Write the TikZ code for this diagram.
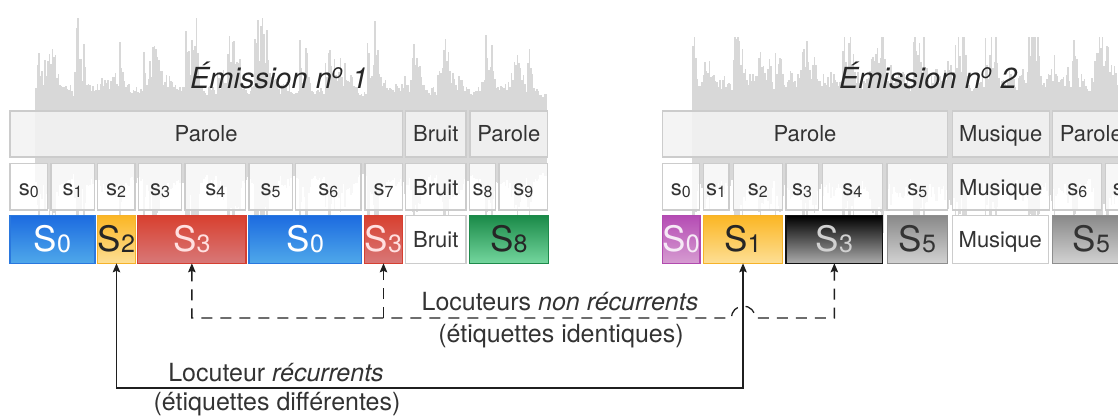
\documentclass[tikz,border=0pt]{standalone}
\usepackage{fontspec}
\setmainfont{TeX Gyre Heros}
\usetikzlibrary{arrows.meta}
\definecolor{txt}{HTML}{333333}
\definecolor{bord}{HTML}{CCCCCC}
\definecolor{wave}{HTML}{D8D8D8}
\definecolor{rowAfill}{HTML}{F3F3F3}
\definecolor{blueT}{HTML}{1C6BE0}\definecolor{blueB}{HTML}{4FA8EA}\definecolor{blueD}{HTML}{2A78DE}
\definecolor{yelT}{HTML}{FBB624}\definecolor{yelB}{HTML}{FDDF95}\definecolor{yelD}{HTML}{F6B22A}
\definecolor{redT}{HTML}{D8402F}\definecolor{redB}{HTML}{D87878}\definecolor{redD}{HTML}{D53F31}
\definecolor{grnT}{HTML}{1A8A48}\definecolor{grnB}{HTML}{74D69E}\definecolor{grnD}{HTML}{1E8A4B}
\definecolor{purT}{HTML}{B54CB4}\definecolor{purB}{HTML}{D69CD1}\definecolor{purD}{HTML}{B14BAF}
\definecolor{blkT}{HTML}{000000}\definecolor{blkB}{HTML}{ABABAB}\definecolor{blkD}{HTML}{111111}
\definecolor{gryT}{HTML}{898989}\definecolor{gryB}{HTML}{D2D2D2}\definecolor{gryD}{HTML}{8E8E8E}
\newcommand\fs[1]{\fontsize{#1}{#1}\selectfont}
\newcommand\smS[1]{s\raisebox{-2.3pt}{\fs{16}#1}}
\newcommand\bgS[1]{S\raisebox{-1pt}{\fs{25}#1}}
\newcommand\seg[6]{\node[#1, minimum width={(#4-#3)*1pt}] (#2) at ({(#3+#4)/2},#5) {#6};}
\begin{document}
\begin{tikzpicture}[x=1pt,y=-1pt,
  segbase/.style={draw=bord, line width=1.3pt, inner sep=0pt, outer sep=0pt, text=txt},
  rowA/.style={segbase, fill=rowAfill, fill opacity=0.88, text opacity=1, minimum height=46pt, text height=16pt, text depth=0.6pt, font=\fs{22}},
  rowB/.style={segbase, fill=white, fill opacity=0.82, text opacity=1, minimum height=46.7pt, text height=17.2pt, text depth=0.6pt, font=\fs{22}},
  rowC/.style={segbase, line width=1.2pt, minimum height=47.6pt, text height=25pt, text depth=0.6pt, font=\fs{35}},
  rowCw/.style={segbase, fill=white, minimum height=47.6pt, text height=17pt, text depth=0.6pt, font=\fs{22}},
  cblue/.style={rowC, draw=blueD, top color=blueT, bottom color=blueB, text=white},
  cyel/.style={rowC, draw=yelD, top color=yelT, bottom color=yelB, text=black!85},
  cred/.style={rowC, draw=redD, top color=redT, bottom color=redB, text=white!88!red},
  cgrn/.style={rowC, draw=grnD, top color=grnT, bottom color=grnB, text=black!85},
  cpur/.style={rowC, draw=purD, top color=purT, bottom color=purB, text=white!88!purT},
  cblk/.style={rowC, draw=blkD, top color=blkT, bottom color=blkB, text=black!18},
  cgry/.style={rowC, draw=gryD, top color=gryT, bottom color=gryB, text=txt},
  lab/.style={text=txt, font=\fs{25}, inner sep=0pt},
  ttl/.style={text=black!85, font=\fs{29}\itshape, inner sep=0pt},
  conn/.style={line width=1.3pt, draw=black!88},
  dsh/.style={conn, dash pattern=on 11pt off 8pt},
  tip/.style={arrows={-{Stealth[length=9pt,width=7.5pt,inset=1.5pt]}}},
  tips/.style={arrows={{Stealth[length=9pt,width=7.5pt,inset=1.5pt]}-{Stealth[length=9pt,width=7.5pt,inset=1.5pt]}}}
]
\useasboundingbox (0,0) rectangle (1118,416);
\clip (0,0) rectangle (1118,416);
% waveforms (decorative background)
\pgfmathsetseed{12}
\xdef\prevh{40}
\foreach \x in {35,36.5,...,545} {%
  \pgfmathsetmacro\b{floor((\x-30)/14)}%
  \pgfmathsetmacro\amp{15+100*(0.5+0.5*sin(\b*137.5+20))^2}%
  \pgfmathsetmacro\nh{34+6*rnd+\amp*rnd^1.5}%
  \pgfmathsetmacro\h{min(127,0.45*\prevh+0.55*\nh)}%
  \xdef\prevh{\h}%
  \fill[wave] (\x,135-\h) rectangle ++(1.7,2*\h);}
\xdef\prevh{40}
\foreach \x in {692,693.5,...,1118} {%
  \pgfmathsetmacro\b{floor((\x-30)/14)}%
  \pgfmathsetmacro\amp{30+90*(0.5+0.5*sin(\b*137.5+60))^2}%
  \pgfmathsetmacro\nh{38+6*rnd+\amp*rnd^1.5}%
  \pgfmathsetmacro\h{min(98,0.45*\prevh+0.55*\nh)}%
  \xdef\prevh{\h}%
  \fill[wave] (\x,135-\h) rectangle ++(1.7,2*\h);}
% titles
\node[ttl, anchor=base] (title1) at (279,88) {Émission n\textsuperscript{o} 1};
\node[ttl, anchor=base] (title2) at (928,88) {Émission n\textsuperscript{o} 2};
% ---- Emission 1 ----
\seg{rowA}{lA1}{10}{402.3}{134}{Parole}
\seg{rowA}{lA2}{405.7}{466}{134}{Bruit}
\seg{rowA}{lA3}{470}{547.7}{134}{Parole}
\seg{rowB}{lB0}{10}{47.7}{186.7}{\smS{0}}
\seg{rowB}{lB1}{51}{94.3}{186.7}{\smS{1}}
\seg{rowB}{lB2}{97.3}{135}{186.7}{\smS{2}}
\seg{rowB}{lB3}{138.3}{181.7}{186.7}{\smS{3}}
\seg{rowB}{lB4}{185}{245.7}{186.7}{\smS{4}}
\seg{rowB}{lB5}{249}{292.3}{186.7}{\smS{5}}
\seg{rowB}{lB6}{295.7}{361}{186.7}{\smS{6}}
\seg{rowB}{lB7}{365}{402.3}{186.7}{\smS{7}}
\seg{rowB}{lBn}{405.7}{466}{186.7}{Bruit}
\seg{rowB}{lB8}{469.3}{495.7}{186.7}{\smS{8}}
\seg{rowB}{lB9}{499}{547.7}{186.7}{\smS{9}}
\seg{cblue}{lCa}{10}{95}{239.5}{\bgS{0}}
\seg{cyel}{lCb}{97.3}{135.7}{239.5}{\bgS{2}}
\seg{cred}{lCc}{137.7}{246}{239.5}{\bgS{3}}
\seg{cblue}{lCd}{249}{361.7}{239.5}{\bgS{0}}
\seg{cred}{lCe}{364.3}{402.7}{239.5}{\bgS{3}}
\seg{rowCw}{lCf}{405.7}{466}{239.5}{Bruit}
\seg{cgrn}{lCg}{469.3}{548.3}{239.5}{\bgS{8}}
% ---- Emission 2 ----
\seg{rowA}{rA1}{662.3}{947.7}{134}{Parole}
\seg{rowA}{rA2}{952.3}{1049.3}{134}{Musique}
\seg{rowA}{rA3}{1052.7}{1130}{134}{Parole}
\seg{rowB}{rB0}{662.3}{699.3}{186.7}{\smS{0}}
\seg{rowB}{rB1}{703.3}{729}{186.7}{\smS{1}}
\seg{rowB}{rB2}{733.3}{782.3}{186.7}{\smS{2}}
\seg{rowB}{rB3}{786}{818.3}{186.7}{\smS{3}}
\seg{rowB}{rB4}{822.3}{882.3}{186.7}{\smS{4}}
\seg{rowB}{rB5}{887}{947.7}{186.7}{\smS{5}}
\seg{rowB}{rBm}{952.3}{1049.3}{186.7}{Musique}
\seg{rowB}{rB6}{1052.7}{1101.7}{186.7}{\smS{6}}
\seg{rowB}{rB7}{1105.7}{1140}{186.7}{\smS{7}}
\seg{cpur}{rCa}{662.3}{700}{239.5}{\bgS{0}}
\seg{cyel}{rCb}{703.3}{782.7}{239.5}{\bgS{1}}
\seg{cblk}{rCc}{786}{882.7}{239.5}{\bgS{3}}
\seg{cgry}{rCd}{887.3}{947.7}{239.5}{\bgS{5}}
\seg{rowCw}{rCe}{952.3}{1048.3}{239.5}{Musique}
\seg{cgry}{rCf}{1052.7}{1130}{239.5}{\bgS{5}}
% ---- connectors ----
\coordinate (dy) at (0,318);
\coordinate (sy) at (0,388);
\coordinate (jmp) at (731.3,318);
\draw[dsh, tip] (lCe.south |- dy) -- (lCe.south);
\draw[dsh, tips] (lCc.south) |- (jmp) arc (180:360:12) -- (rCc.south |- dy) -- (rCc.south);
\draw[conn, tips] (lCb.south) |- (sy -| rCb.south) -- (rCb.south);
% labels
\node[lab, anchor=base] (t1) at (560,310) {Locuteurs \textit{non récurrents}};
\node[lab, anchor=base] (t2) at (561,342) {(étiquettes identiques)};
\node[lab, anchor=base] (t3) at (276,381.7) {Locuteur \textit{récurrents}};
\node[lab, anchor=base] (t4) at (277,410) {(étiquettes différentes)};
\end{tikzpicture}
\end{document}
